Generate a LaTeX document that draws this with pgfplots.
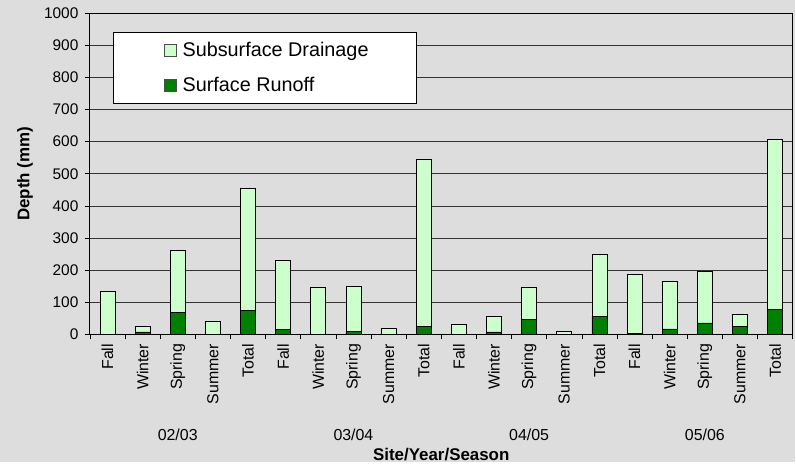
\documentclass[border=0pt]{standalone}
\usepackage{pgfplots}
\usepackage{pgfplotstable}
\pgfplotsset{compat=1.18}
\usepackage{fontspec}
\setmainfont{Liberation Sans}

\definecolor{bggray}{HTML}{DDDDDD}
\definecolor{drain}{HTML}{CCFFCC}
\definecolor{runoff}{HTML}{008000}
\definecolor{gridc}{HTML}{333333}

% runoff and subsurface drainage depth (mm)
\pgfplotstableread{
x runoff drain
1  0   134
2  8   17
3  68  195
4  0   42
5  76  378
6  15  217
7  0   146
8  9   142
9  0   18
10 26  519
11 0   33
12 8   49
13 48  98
14 0   10
15 57  191
16 4   182
17 17  148
18 36  161
19 25  39
20 79  527
}\depthdata

\begin{document}
\begin{tikzpicture}
\fill[bggray] (0,0) rectangle (796bp,463bp);
\begin{axis}[
  at={(90bp,128bp)}, anchor=south west,
  width=704bp, height=322bp, scale only axis,
  ybar stacked, bar width=15bp,
  xmin=0.5, xmax=20.5, ymin=0, ymax=1000,
  clip=false,
  axis line style={black, line width=0.8bp},
  tick align=outside, tick pos=left,
  major tick length=5bp,
  tick style={black, line width=0.6bp},
  ytick={0,100,...,1000},
  ymajorgrids,
  grid style={gridc, line width=0.6bp},
  /pgf/number format/.cd, 1000 sep={}, assume math mode=true, /pgfplots/.cd,
  tick label style={font=\fontsize{16}{19}\selectfont},
  yticklabel style={font=\fontsize{15.5}{18}\selectfont, xshift=-3bp},
  xtick={0.5,1.5,...,20.5}, xticklabels={},
  extra x ticks={1,...,20},
  extra x tick labels={Fall,Winter,Spring,Summer,Total,Fall,Winter,Spring,Summer,Total,Fall,Winter,Spring,Summer,Total,Fall,Winter,Spring,Summer,Total},
  extra x tick style={major tick length=0pt,
    xticklabel style={rotate=90, anchor=east, xshift=-6bp}},
  reverse legend,
  legend cell align=left,
  legend style={at={(rel axis cs:0.0327,0.941)}, anchor=north west,
    draw=black, fill=white, line width=0.6bp,
    font=\fontsize{19.9}{23}\selectfont,
    inner xsep=46bp, inner ysep=8bp, row sep=15bp, column sep=4bp},
  legend image code/.code={\path (0bp,0bp);
    \draw[#1, draw=gray!60!black, line width=0.6bp] (5bp,-6bp) rectangle (17bp,6bp);},
]
\addplot[fill=runoff, draw=black, line width=0.6bp] table[x=x, y=runoff] {\depthdata};
\addlegendentry{Surface Runoff}
\addplot[fill=drain, draw=black, line width=0.6bp] table[x=x, y=drain] {\depthdata};
\addlegendentry{Subsurface Drainage}

\node[font=\fontsize{16}{19}\selectfont] at (axis cs:3,0) [yshift=-101bp] {02/03};
\node[font=\fontsize{16}{19}\selectfont] at (axis cs:8,0) [yshift=-101bp] {03/04};
\node[font=\fontsize{16}{19}\selectfont] at (axis cs:13,0) [yshift=-101bp] {04/05};
\node[font=\fontsize{16}{19}\selectfont] at (axis cs:18,0) [yshift=-101bp] {05/06};
\node[font=\bfseries\fontsize{17}{20}\selectfont] at (rel axis cs:0.5,0) [yshift=-120bp] {Site/Year/Season};
\node[font=\bfseries\fontsize{17}{20}\selectfont, rotate=90] at ([xshift=-65bp]rel axis cs:0,0.5) {Depth (mm)};
\end{axis}
\end{tikzpicture}
\end{document}
